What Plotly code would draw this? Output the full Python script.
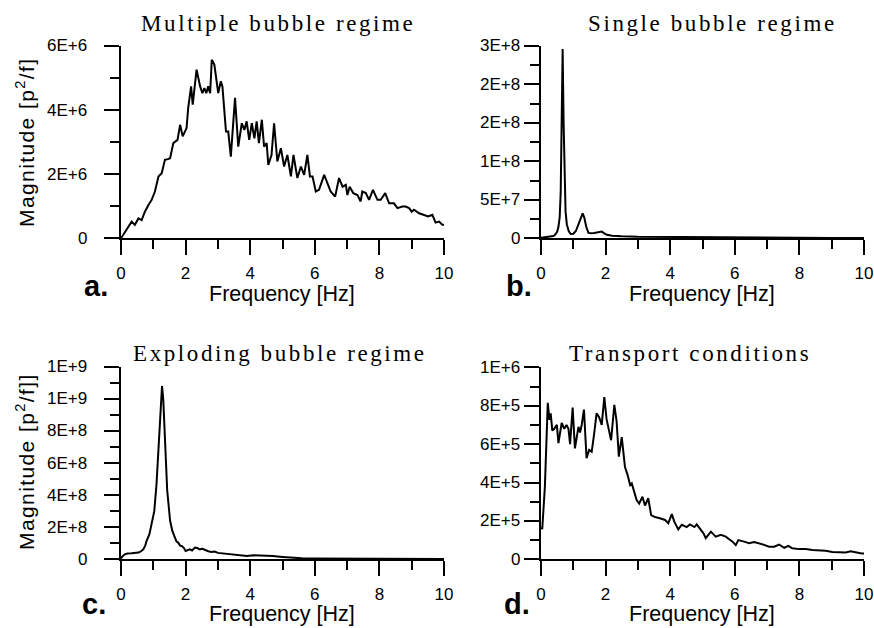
import plotly.graph_objects as go

W, H = 874, 628

# ---------------- data ----------------
freq_a = [0.00, 0.10, 0.20, 0.33, 0.43, 0.54, 0.64, 0.74, 0.85, 0.95, 1.05, 1.16, 1.26, 1.36, 1.45,
          1.52, 1.62, 1.75, 1.83, 1.91, 2.03, 2.08, 2.17, 2.22, 2.34, 2.45, 2.52, 2.58, 2.64, 2.70,
          2.76, 2.81, 2.89, 2.96, 3.01, 3.09, 3.14, 3.25, 3.32, 3.40, 3.53, 3.63, 3.74, 3.82, 3.89,
          3.97, 4.05, 4.13, 4.20, 4.27, 4.36, 4.43, 4.51, 4.56, 4.66, 4.74, 4.84, 4.95, 5.05, 5.15,
          5.26, 5.34, 5.46, 5.57, 5.67, 5.77, 5.85, 5.93, 6.03, 6.13, 6.29, 6.39, 6.49, 6.63, 6.75,
          6.86, 6.96, 7.01, 7.08, 7.19, 7.32, 7.42, 7.47, 7.58, 7.68, 7.80, 7.94, 8.04, 8.18, 8.30,
          8.45, 8.56, 8.71, 8.81, 8.92, 9.00, 9.07, 9.23, 9.38, 9.51, 9.64, 9.74, 9.85, 9.95, 10.0]
mag_a_1e6 = [0.00, 0.15, 0.30, 0.52, 0.42, 0.62, 0.57, 0.83, 1.04, 1.20, 1.46, 1.93, 2.03, 2.45, 2.47,
             2.50, 2.97, 3.07, 3.54, 3.18, 3.44, 4.06, 4.74, 4.17, 5.26, 4.74, 4.53, 4.69, 4.53, 4.74,
             4.53, 5.57, 5.42, 4.90, 4.53, 4.90, 4.74, 3.33, 3.33, 2.55, 4.38, 2.86, 3.59, 3.38, 3.65,
             3.07, 3.59, 3.12, 3.65, 2.97, 3.70, 2.86, 2.97, 2.29, 2.60, 3.59, 2.40, 2.81, 2.24, 2.60,
             1.93, 2.60, 1.88, 2.24, 1.98, 2.60, 1.93, 1.93, 1.46, 1.51, 1.98, 1.72, 1.46, 1.30, 1.88,
             1.61, 1.67, 1.35, 1.61, 1.41, 1.35, 1.15, 1.46, 1.41, 1.20, 1.51, 1.20, 1.20, 1.41, 1.09,
             1.09, 0.94, 0.99, 0.99, 0.94, 0.83, 0.89, 0.78, 0.73, 0.68, 0.73, 0.49, 0.52, 0.42, 0.42]

freq_b = [0.00, 0.10, 0.20, 0.30, 0.38, 0.43, 0.50, 0.54, 0.58, 0.61, 0.64, 0.67, 0.70, 0.73, 0.76,
          0.80, 0.86, 0.92, 1.00, 1.08, 1.16, 1.23, 1.29, 1.34, 1.40, 1.47, 1.55, 1.65, 1.75, 1.88,
          1.96, 2.04, 2.20, 2.29, 2.50, 3.00, 4.00, 5.00, 6.00, 7.00, 8.00, 9.00, 10.0]
mag_b_1e6 = [0.6, 1.0, 1.3, 2.0, 3.0, 4.3, 8.5, 15.0, 28.0, 60.0, 140.0, 246.0, 150.0, 70.0, 35.0,
             18.0, 9.0, 5.6, 6.0, 9.5, 18.0, 28.0, 32.5, 27.0, 15.0, 7.0, 6.5, 7.0, 8.0, 8.7,
             6.5, 4.5, 3.3, 3.0, 2.6, 2.0, 1.6, 1.3, 1.0, 0.8, 0.6, 0.5, 0.4]

freq_c = [0.00, 0.05, 0.12, 0.20, 0.33, 0.45, 0.54, 0.62, 0.69, 0.75, 0.79, 0.88, 0.95, 1.03, 1.10,
          1.18, 1.24, 1.27, 1.31, 1.36, 1.43, 1.52, 1.59, 1.67, 1.72, 1.77, 1.83, 1.88, 1.95, 2.00,
          2.07, 2.13, 2.20, 2.29, 2.36, 2.44, 2.52, 2.60, 2.70, 2.80, 2.90, 3.00, 3.10, 3.20, 3.35,
          3.50, 3.70, 3.90, 4.10, 4.30, 4.45, 4.70, 5.00, 5.30, 5.60, 6.00, 6.50, 7.00, 8.00, 9.00, 10.0]
mag_c_1e8 = [0.05, 0.20, 0.31, 0.36, 0.37, 0.39, 0.42, 0.50, 0.62, 0.85, 1.14, 1.56, 2.20, 3.00, 4.70,
             7.60, 10.10, 10.80, 9.90, 7.20, 4.30, 2.40, 1.77, 1.35, 1.10, 1.04, 0.85, 0.83, 0.70, 0.52,
             0.60, 0.62, 0.55, 0.73, 0.70, 0.62, 0.65, 0.56, 0.50, 0.46, 0.48, 0.40, 0.38, 0.35, 0.30,
             0.27, 0.24, 0.21, 0.25, 0.24, 0.25, 0.20, 0.15, 0.10, 0.06, 0.05, 0.05, 0.04, 0.03, 0.03, 0.02]

freq_d = [0.00, 0.04, 0.12, 0.21, 0.26, 0.30, 0.35, 0.41, 0.49, 0.54, 0.64, 0.72, 0.79, 0.85, 0.90,
          0.98, 1.05, 1.16, 1.21, 1.26, 1.33, 1.41, 1.49, 1.57, 1.65, 1.72, 1.80, 1.88, 1.96, 2.03,
          2.17, 2.27, 2.34, 2.41, 2.50, 2.55, 2.60, 2.68, 2.76, 2.81, 2.89, 2.96, 3.04, 3.14, 3.22,
          3.32, 3.41, 3.53, 3.68, 3.84, 3.94, 4.05, 4.13, 4.25, 4.36, 4.51, 4.61, 4.75, 4.82, 4.92,
          5.03, 5.10, 5.26, 5.41, 5.57, 5.72, 5.93, 6.03, 6.11, 6.29, 6.44, 6.60, 6.75, 6.91, 7.06,
          7.22, 7.37, 7.53, 7.66, 7.78, 7.99, 8.20, 8.40, 8.61, 8.81, 9.02, 9.23, 9.43, 9.59, 9.74,
          9.93, 10.0]
mag_d_1e5 = [1.60, 1.61, 3.78, 8.15, 7.26, 7.60, 6.70, 6.80, 7.00, 6.05, 7.10, 6.80, 7.00, 6.80, 6.00,
             7.90, 5.78, 6.90, 6.60, 7.00, 7.80, 5.26, 5.70, 5.60, 6.60, 7.60, 7.40, 7.00, 8.45, 7.30,
             6.20, 8.04, 7.20, 5.35, 6.36, 5.70, 4.80, 4.40, 3.87, 3.95, 3.50, 3.09, 2.90, 3.26, 2.80,
             3.18, 2.30, 2.20, 2.14, 2.05, 1.88, 2.35, 1.95, 1.56, 1.80, 1.68, 1.82, 1.68, 1.82, 1.60,
             1.35, 1.10, 1.44, 1.18, 1.27, 1.18, 0.92, 0.74, 1.00, 0.92, 0.84, 0.90, 0.84, 0.75, 0.66,
             0.66, 0.77, 0.60, 0.70, 0.57, 0.53, 0.53, 0.48, 0.45, 0.45, 0.38, 0.36, 0.36, 0.42, 0.36,
             0.30, 0.30]

titles = ["Multiple bubble regime", "Single bubble regime", "Exploding bubble regime", "Transport conditions"]
letters = ["a.", "b.", "c.", "d."]
xlabel = "Frequency [Hz]"
ylabels = ["Magnitude [p<sup>2</sup>/f]", "Magnitude [p<sup>2</sup>/f]]"]

x_ticks = [0, 2, 4, 6, 8, 10]
y_ticks_a = [0, 2e6, 4e6, 6e6]
y_text_a = ["0", "2E+6", "4E+6", "6E+6"]
y_ticks_b = [0, 5e7, 1e8, 1.5e8, 2e8, 2.5e8]
y_text_b = ["0", "5E+7", "1E+8", "2E+8", "2E+8", "3E+8"]
y_ticks_c = [0, 2e8, 4e8, 6e8, 8e8, 1e9, 1.2e9]
y_text_c = ["0", "2E+8", "4E+8", "6E+8", "8E+8", "1E+9", "1E+9"]
y_ticks_d = [0, 2e5, 4e5, 6e5, 8e5, 1e6]
y_text_d = ["0", "2E+5", "4E+5", "6E+5", "8E+5", "1E+6"]

# ---------------- layout helpers ----------------
SANS = "Liberation Sans, Arial, sans-serif"
SERIF = "Liberation Serif, Times New Roman, serif"

def px_x(p):
    return p / W

def px_y(p):
    return 1 - p / H

def spaced(t, s):
    return '<span style="letter-spacing:%spx">%s</span>' % (s, t)

panels = [
    dict(x=(121, 444), y=(46, 238.3), f=freq_a, v=[m * 1e6 for m in mag_a_1e6],
         yr=6e6, tv=y_ticks_a, tt=y_text_a, minor=1e6, lab_gap=32),
    dict(x=(541, 864), y=(46, 238.3), f=freq_b, v=[m * 1e6 for m in mag_b_1e6],
         yr=2.5e8, tv=y_ticks_b, tt=y_text_b, minor=2.5e7, lab_gap=19),
    dict(x=(121, 444), y=(366.7, 559.3), f=freq_c, v=[m * 1e8 for m in mag_c_1e8],
         yr=1.2e9, tv=y_ticks_c, tt=y_text_c, minor=1e8, lab_gap=32),
    dict(x=(541, 864), y=(367.3, 559.3), f=freq_d, v=[m * 1e5 for m in mag_d_1e5],
         yr=1e6, tv=y_ticks_d, tt=y_text_d, minor=1e5, lab_gap=19),
]

fig = go.Figure()
layout = dict(width=W, height=H, margin=dict(l=0, r=0, t=0, b=0),
              paper_bgcolor="white", plot_bgcolor="white", showlegend=False)

tickfont = dict(family=SANS, size=17, color="black")
ann = []
for i, p in enumerate(panels):
    n = "" if i == 0 else str(i + 1)
    fig.add_trace(go.Scatter(x=p["f"], y=p["v"], mode="lines",
                             line=dict(color="black", width=2),
                             xaxis="x" + n, yaxis="y" + n, hoverinfo="skip"))
    layout["xaxis" + n] = dict(
        domain=[px_x(p["x"][0]), px_x(p["x"][1])], range=[0, 10], anchor="y" + n,
        automargin=False,
        showgrid=False, zeroline=False, showline=True, linecolor="black", linewidth=2,
        ticks="outside", ticklen=15, tickwidth=2, tickcolor="black",
        tickvals=x_ticks, ticktext=[str(t) for t in x_ticks],
        tickfont=tickfont, ticklabelstandoff=3,
        minor=dict(dtick=1, tick0=0, ticklen=9, tickwidth=2, tickcolor="black", ticks="outside"),
    )
    layout["yaxis" + n] = dict(
        domain=[px_y(p["y"][1]), px_y(p["y"][0])], range=[0, p["yr"]], anchor="x" + n,
        automargin=False,
        showgrid=False, zeroline=False, showline=True, linecolor="black", linewidth=2,
        ticks="outside", ticklen=15, tickwidth=2, tickcolor="black",
        tickvals=p["tv"], showticklabels=False,
        minor=dict(dtick=p["minor"], tick0=0, ticklen=9, tickwidth=2, tickcolor="black", ticks="outside"),
    )
    # y tick labels, placed on the axis scale, right-aligned left of the ticks
    for val, txt in zip(p["tv"], p["tt"]):
        ann.append(dict(text=txt, x=px_x(p["x"][0]), y=val, xref="paper", yref="y" + n,
                        xanchor="right", yanchor="middle", xshift=-p["lab_gap"],
                        showarrow=False, font=tickfont))

title_pos = [(278, 23), (712, 23), (280, 353), (690, 353)]
for t, (x, y) in zip(titles, title_pos):
    ann.append(dict(text=spaced(t, 2.6), x=px_x(x), y=px_y(y), xref="paper", yref="paper",
                    xanchor="center", yanchor="middle", showarrow=False,
                    font=dict(family=SERIF, size=23, color="black")))
xlab_pos = [(282, 294), (702, 294), (282, 614), (702, 614)]
for (x, y) in xlab_pos:
    ann.append(dict(text=xlabel, x=px_x(x), y=px_y(y), xref="paper", yref="paper",
                    xanchor="center", yanchor="middle", showarrow=False, borderpad=0,
                    font=dict(family=SANS, size=21.5, color="black")))
letter_pos = [(96, 286), (519, 286), (94, 604), (517, 604)]
for t, (x, y) in zip(letters, letter_pos):
    ann.append(dict(text=t, x=px_x(x), y=px_y(y), xref="paper", yref="paper",
                    xanchor="center", yanchor="middle", showarrow=False,
                    font=dict(family=SANS, size=29, color="black", weight="bold")))
ylab_pos = [(25, 142), (25, 462)]
for t, (x, y) in zip(ylabels, ylab_pos):
    ann.append(dict(text=spaced(t, 1.4), x=px_x(x), y=px_y(y), xref="paper", yref="paper",
                    xanchor="center", yanchor="middle", showarrow=False, textangle=-90,
                    font=dict(family=SANS, size=21, color="black")))

layout["annotations"] = ann
fig.update_layout(**layout)
fig.write_html("out.html")
